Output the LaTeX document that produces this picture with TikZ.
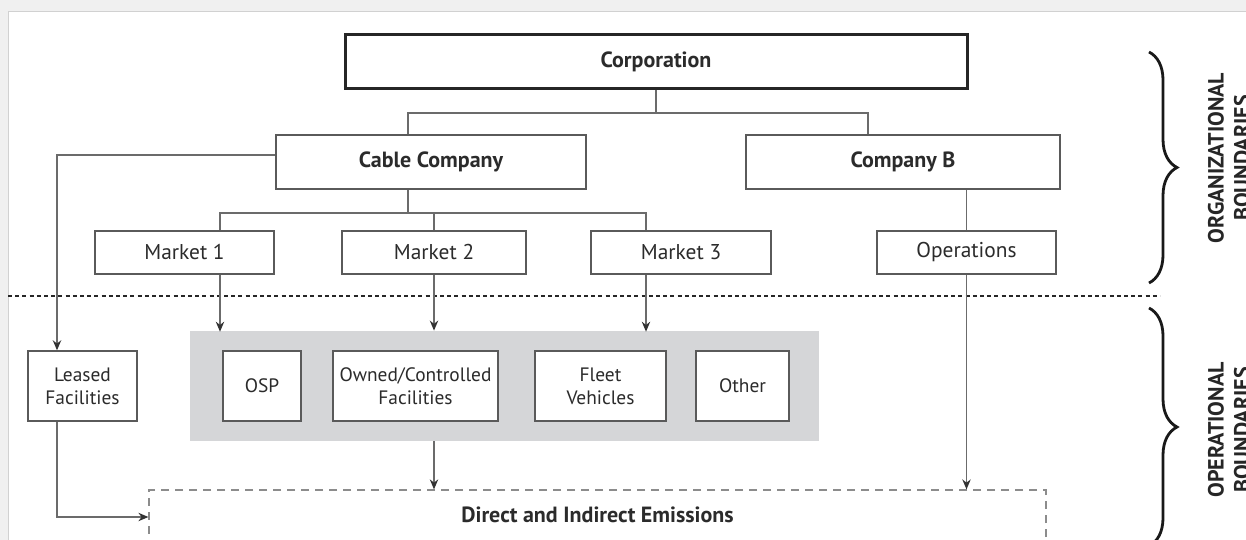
\documentclass[tikz,border=0pt]{standalone}
\usepackage{fontspec}
\setmainfont{PT Sans}
\usetikzlibrary{positioning, arrows.meta, decorations.pathreplacing}
\definecolor{boxline}{HTML}{5A5A5A}
\definecolor{txt}{HTML}{2B2B2B}
\definecolor{panelgray}{HTML}{D5D6D8}
\tikzset{
link/.style={draw=black!58, line width=0.7pt}, % plain connector
arr/.style={link, -{Stealth[length=5pt,width=4.2pt,color=black!80]}}, % connector with head
unit/.style={draw=boxline, line width=0.7pt, fill=white, text=txt, align=center,
  inner sep=0pt, font=\fontsize{10}{11.5}\selectfont}, % every box
head/.style={unit, minimum height=27pt, font=\fontsize{11}{13}\selectfont\bfseries},
market/.style={unit, minimum height=21.5pt, font=\fontsize{10.7}{12}\selectfont},
asset/.style={unit, minimum height=35pt, font=\fontsize{9.7}{11.5}\selectfont},
bound/.style={rotate=90, align=center, text=black!85, font=\fontsize{11}{13}\selectfont\bfseries},
curly/.style={decorate, decoration={brace, amplitude=14pt}, line width=1.4pt, black!90},
}

\begin{document}
\begin{tikzpicture}[x=0.5pt, y=-0.5pt]
                \useasboundingbox (0,0) rectangle (1246,540);
                \clip (0,0) rectangle (1246,540);
                % card
                \fill[black!6] (0,0) rectangle (1246,540);
                \fill[white] (8,11) rectangle (1246,540);
                \draw[black!18] (8,540) |- (1246,11);

                % organisation chart
                \node[head, minimum width=311pt, line width=1.5pt, draw=black!85] (corp) at (656,62) {Corporation};
                \node[head, minimum width=155pt] (cable) at (431,162) {Cable Company};
                \node[head, minimum width=157pt] (compb) at (903,162) {Company B};
                \node[market, minimum width=89.5pt] (m1) at (184.5,252.5) {Market 1};
                \node[market, minimum width=92pt] (m2) at (434,252.5) {Market 2};
                \node[market, minimum width=90pt] (m3) at (681,252.5) {Market 3};
                \node[market, minimum width=89.5pt] (ops) at (966.5,252.5) {Operations};

                \coordinate (jc) at (656,113);
                \coordinate (jm) at (408,213);
                \draw[link] (corp.south) -- (jc);
                \draw[link] ([xshift=-11.5pt]cable.north) |- (jc) -| ([xshift=-17.5pt]compb.north);
                \draw[link] ([xshift=-11.5pt]cable.south) -- (jm);
                \draw[link] ([xshift=17.75pt]m1.north) |- (jm) -| ([xshift=-17.5pt]m3.north);
                \draw[link] (m2.north) -- (m2.north |- jm);
                \draw[link] (ops.north |- compb.south) -- (ops.north);

                % boundary line
                \draw[dash pattern=on 2pt off 1.6pt, line width=0.9pt, black!85] (8,296) -- (1160,296);

                % operational assets
                \node[fill=panelgray, minimum width=314.5pt, minimum height=55pt, inner sep=0pt] (panel) at (504.5,386) {};
                \node[asset, minimum width=54.5pt] (lease) at (82.5,386) {Leased\\Facilities};
                \node[asset, minimum width=39pt] (osp) at (262,386) {OSP};
                \node[asset, minimum width=82.5pt] (owned) at (415.5,386) {Owned/Controlled\\Facilities};
                \node[asset, minimum width=65.5pt] (fleet) at (600.5,386) {Fleet\\Vehicles};
                \node[asset, minimum width=46.5pt] (other) at (742.5,386) {Other};
                \node[draw=black!45, dashed, dash pattern=on 4pt off 3pt, line width=0.6pt,
                  minimum width=448.5pt, minimum height=30pt, inner sep=0pt,
                  label={[font=\fontsize{11}{13}\selectfont\bfseries, text=txt, yshift=2.5pt]center:Direct and Indirect Emissions}] (emis) at (597.5,520) {};

                \draw[arr] ([yshift=3.5pt]cable.west) -| ([xshift=-12.75pt]lease.north);
                \draw[arr] ([xshift=17.75pt]m1.south) -- +(0,-28.5pt);
                \draw[arr] (m2.south) -- (m2.south |- panel.north);
                \draw[arr] ([xshift=-17.5pt]m3.south) -- +(0,-28.5pt);
                \draw[arr] (ops.south) -- (ops.south |- emis.north);
                \draw[arr] (m2.south |- panel.south) -- (m2.south |- emis.north);
                \draw[arr] ([xshift=-12.75pt]lease.south) |- ([yshift=1.5pt]emis.west);

                % boundary braces
                \draw[curly] (1149,52) -- (1149,283);
                \draw[curly] (1149,308) -- (1149,546);
                \node[bound] (orgtxt) at (1229,158) {ORGANIZATIONAL\\BOUNDARIES};
                \node[bound] (optxt) at (1229,430) {OPERATIONAL\\BOUNDARIES};
            \end{tikzpicture}
\end{document}
